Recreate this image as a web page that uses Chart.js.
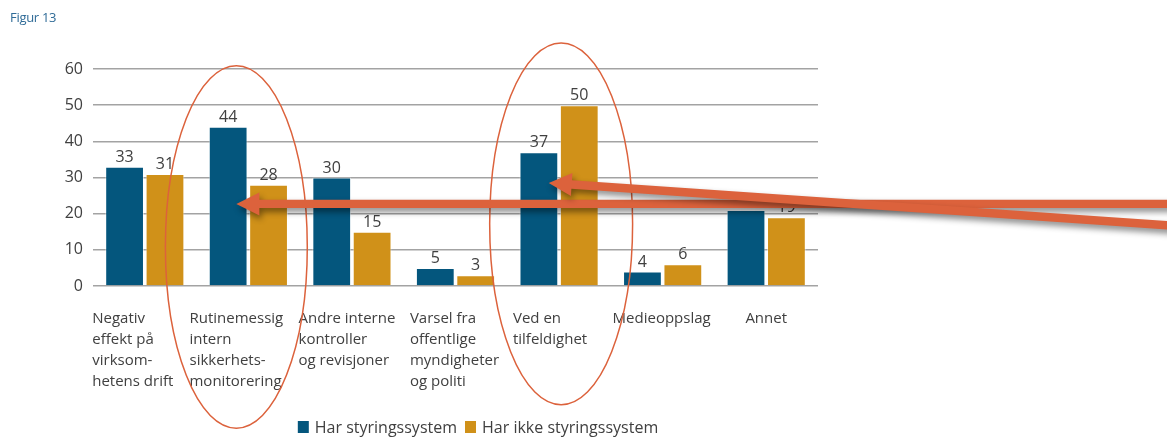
<!DOCTYPE html>
<html><head><meta charset="utf-8">
<script src="https://cdn.jsdelivr.net/npm/chart.js@4"></script>
<style>
html,body{margin:0;padding:0;background:#fff;}
#wrap{position:relative;width:1167px;height:448px;overflow:hidden;}
canvas{position:absolute;left:0;top:0;}
#title{position:absolute;left:10px;top:8px;font:13px "Open Sans",sans-serif;color:#2f6b97;letter-spacing:-0.3px;}
</style></head><body>
<div id="wrap"><canvas id="c" width="1167" height="448"></canvas><div id="title">Figur 13</div></div>
<script>
// ---- data ----
const categories = [
  ["Negativ","effekt på","virksom-","hetens drift"],
  ["Rutinemessig","intern","sikkerhets-","monitorering"],
  ["Andre interne","kontroller","og revisjoner"],
  ["Varsel fra","offentlige","myndigheter","og politi"],
  ["Ved en","tilfeldighet"],
  ["Medieoppslag"],
  ["Annet"]
];
const seriesNames = ["Har styringssystem","Har ikke styringssystem"];
const harStyring = [33,44,30,5,37,4,21];
const harIkkeStyring = [31,28,15,3,50,6,19];
const yTicks = [0,10,20,30,40,50,60];

// ---- annotation overlay (category index / value coordinates) ----
const ellipses = [
  {cat: 0.884, val: 10.8, rCat: 0.685, rVal: 50.1},
  {cat: 4.02, val: 17.2, rCat: 0.69, rVal: 50}
];
const arrows = [
  {tipCat: 0.884, tipVal: 22.7, tailVal: 22.7},
  {tipCat: 3.9, tipVal: 28.5, tailVal: 16.6}
];

const BLUE = '#04567d', ORANGE = '#d09119', RED = '#dc623c', TXT = '#404040';
const FONT = '"Open Sans", sans-serif';

const dataLabels = {
  id: 'dataLabels',
  afterDatasetsDraw(chart) {
    const ctx = chart.ctx;
    ctx.save();
    ctx.font = '16px ' + FONT;
    ctx.fillStyle = TXT;
    ctx.textAlign = 'center';
    ctx.textBaseline = 'alphabetic';
    chart.data.datasets.forEach((ds, di) => {
      chart.getDatasetMeta(di).data.forEach((bar, i) => {
        ctx.fillText(String(ds.data[i]), bar.x, bar.y - 5);
      });
    });
    ctx.restore();
  }
};

const xLabels = {
  id: 'xLabels',
  afterDraw(chart) {
    const ctx = chart.ctx, xs = chart.scales.x;
    const shift = [-12, -12, -5, -1, -9, -1, 0]; // label block offset from centred
    ctx.save();
    ctx.font = '15px ' + FONT;
    ctx.fillStyle = TXT;
    ctx.textAlign = 'left';
    ctx.textBaseline = 'alphabetic';
    const base = chart.chartArea.bottom + 37;
    categories.forEach((lines, i) => {
      const cx = xs.getPixelForValue(i);
      const w = Math.max(...lines.map(l => ctx.measureText(l).width));
      const x0 = cx - w / 2 + shift[i];
      lines.forEach((l, j) => ctx.fillText(l, x0, base + j * 21));
    });
    ctx.restore();
  }
};

const legendPlugin = {
  id: 'customLegend',
  afterDraw(chart) {
    const ctx = chart.ctx;
    ctx.save();
    ctx.font = '16px ' + FONT;
    ctx.textBaseline = 'alphabetic';
    ctx.textAlign = 'left';
    const colors = [BLUE, ORANGE];
    const sq = 12, g1 = 5, g2 = 8;
    const widths = seriesNames.map(n => ctx.measureText(n).width);
    const total = widths.reduce((a, w) => a + sq + g1 + w, 0) + g2;
    let x = 478 - total / 2;
    const base = 433;
    seriesNames.forEach((n, i) => {
      ctx.fillStyle = colors[i];
      ctx.fillRect(x, base - 12, sq - 1, 12);
      x += sq + g1;
      ctx.fillStyle = TXT;
      ctx.fillText(n, x, base);
      x += widths[i] + g2;
    });
    ctx.restore();
  }
};

const overlay = {
  id: 'overlay',
  afterDraw(chart) {
    const ctx = chart.ctx, xs = chart.scales.x, ys = chart.scales.y;
    const catW = xs.getPixelForValue(1) - xs.getPixelForValue(0);
    const unit = ys.getPixelForValue(0) - ys.getPixelForValue(1);
    ctx.save();
    ctx.strokeStyle = RED;
    ctx.lineWidth = 1.5;
    ellipses.forEach(e => {
      ctx.beginPath();
      ctx.ellipse(xs.getPixelForValue(0) + e.cat * catW, ys.getPixelForValue(e.val),
                  e.rCat * catW, e.rVal * unit, 0, 0, Math.PI * 2);
      ctx.stroke();
    });
    ctx.restore();
    arrows.forEach(a => {
      const x2 = xs.getPixelForValue(0) + a.tipCat * catW, y2 = ys.getPixelForValue(a.tipVal);
      const x1 = chart.width + 10, y1 = ys.getPixelForValue(a.tailVal);
      const ang = Math.atan2(y2 - y1, x2 - x1);
      const L = Math.hypot(x2 - x1, y2 - y1);
      const hl = 23, hw = 11.5, sh = 4.2;
      ctx.save();
      ctx.shadowColor = 'rgba(0,0,0,0.45)';
      ctx.shadowBlur = 6;
      ctx.shadowOffsetX = 2;
      ctx.shadowOffsetY = 4;
      ctx.fillStyle = RED;
      ctx.translate(x2, y2);
      ctx.rotate(ang);
      ctx.beginPath();
      ctx.moveTo(0, 0);
      ctx.lineTo(-hl, -hw);
      ctx.lineTo(-hl, -sh);
      ctx.lineTo(-L, -sh);
      ctx.lineTo(-L, sh);
      ctx.lineTo(-hl, sh);
      ctx.lineTo(-hl, hw);
      ctx.closePath();
      ctx.fill();
      ctx.restore();
    });
  }
};

new Chart(document.getElementById('c'), {
  type: 'bar',
  data: {
    labels: categories.map(l => l.join(' ')),
    datasets: [
      {label: seriesNames[0], data: harStyring, backgroundColor: BLUE,
       borderColor: 'rgba(255,255,255,0.5)', borderWidth: 1,
       categoryPercentage: 0.78, barPercentage: 0.96},
      {label: seriesNames[1], data: harIkkeStyring, backgroundColor: ORANGE,
       borderColor: 'rgba(255,255,255,0.5)', borderWidth: 1,
       categoryPercentage: 0.78, barPercentage: 0.96}
    ]
  },
  options: {
    responsive: false,
    animation: false,
    layout: {padding: {top: 69, right: 349, bottom: 162, left: 0}},
    plugins: {legend: {display: false}, tooltip: {enabled: false}},
    scales: {
      x: {display: false},
      y: {
        min: yTicks[0], max: yTicks[yTicks.length - 1],
        afterBuildTicks(scale) { scale.ticks = yTicks.map(v => ({value: v})); },
        afterFit(scale) { scale.width = 93; },
        border: {display: false},
        grid: {color: '#a3a3a3', lineWidth: 1.6, drawTicks: false},
        ticks: {padding: 10, color: TXT, font: {size: 16, family: FONT}}
      }
    }
  },
  plugins: [dataLabels, xLabels, legendPlugin, overlay]
});
</script>
</body></html>
